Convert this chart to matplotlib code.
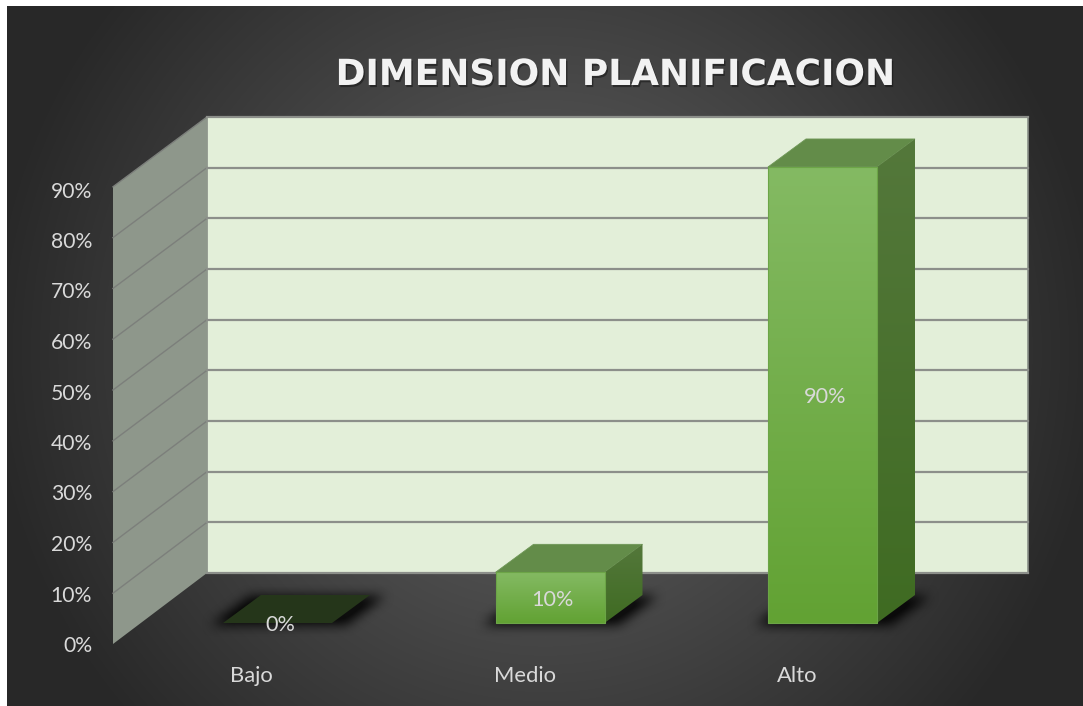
import numpy as np
import matplotlib
matplotlib.use("Agg")
import matplotlib.pyplot as plt
import matplotlib.patheffects as pe
from matplotlib.patches import Polygon

titleText = "DIMENSION PLANIFICACION"
categories = ["Bajo", "Medio", "Alto"]
percentValues = [0, 10, 90]
tickValues = [0, 10, 20, 30, 40, 50, 60, 70, 80, 90]

# Oblique layout of the chart, in pixels
figWidth, figHeight = 1083, 706
wallLeft, wallRight, wallBase = 207, 1028, 573
sideFrontX, sideFrontBase = 113, 644
backUnit = 5.067
frontUnit = 5.08
barBase = 623
barWidth = 109
barDepthX, barDepthY = 38, 28
barStart = 223
barStep = 272.5
labelStart = 251.5
labelStep = 273
labelColor = "#D9D9D9"


def blendColors(startColor, endColor, t):
    start = np.array(matplotlib.colors.to_rgb(startColor))
    end = np.array(matplotlib.colors.to_rgb(endColor))
    return start + (end - start) * t[..., None]


def drawBackground(ax):
    yy, xx = np.mgrid[6:figHeight, 7:figWidth]
    dist = np.sqrt(((xx - 545) / 560.0) ** 2 + ((yy - 350) / 560.0) ** 2)
    image = blendColors("#505050", "#282828", np.clip((dist - 0.35) / 0.65, 0, 1))
    ax.imshow(image, extent=[7, figWidth, figHeight, 6], zorder=0, aspect="auto")


def drawWalls(ax):
    wallTop = wallBase - tickValues[-1] * backUnit
    sideTop = sideFrontBase - tickValues[-1] * frontUnit

    ax.add_patch(Polygon([(wallLeft, wallTop), (wallRight, wallTop), (wallRight, wallBase), (wallLeft, wallBase)],
                         facecolor="#E3EFD9", edgecolor="#8A8F88", lw=1.2, zorder=1))
    ax.add_patch(Polygon([(sideFrontX, sideTop), (wallLeft, wallTop), (wallLeft, wallBase), (sideFrontX, sideFrontBase)],
                         facecolor="#8E978B", edgecolor="none", zorder=1))

    for tick in tickValues:
        backY = wallBase - tick * backUnit
        frontY = sideFrontBase - tick * frontUnit
        if tick > 0:
            ax.plot([sideFrontX, wallLeft], [frontY, backY], color="#7C7F7B", lw=1.0, zorder=2)
        ax.plot([wallLeft, wallRight], [backY, backY], color="#8C8F8A", lw=1.6, zorder=2)
        ax.text(92, 646 - tick * 5.05, f"{tick}%", color=labelColor, fontsize=15.2,
                ha="right", va="center", zorder=6)


def softShadow(left, right, front, back, slant):
    """Blurred parallelogram used as the shadow a bar throws on the floor."""
    yy, xx = np.mgrid[0:figHeight, 0:figWidth]
    shift = (front - yy) * slant
    mask = (xx >= left + shift) & (xx <= right + shift) & (yy <= front) & (yy >= back)
    mask = mask.astype(float)
    kernel = np.ones(13) / 13.0
    rows = np.where(mask.any(axis=1))[0]
    band = slice(rows.min() - 16, rows.max() + 17)
    for _ in range(2):
        mask[band] = np.apply_along_axis(lambda row: np.convolve(row, kernel, mode="same"), 1, mask[band])
        mask[band] = np.apply_along_axis(lambda col: np.convolve(col, kernel, mode="same"), 0, mask[band])
    layer = np.zeros((figHeight, figWidth, 4))
    layer[..., 3] = np.clip(mask * 1.2, 0, 1) * 0.8
    return layer


def gradientFace(ax, points, topColor, bottomColor, zorder):
    """Fill a polygon with a vertical gradient, clipped to the polygon outline."""
    pts = np.array(points, dtype=float)
    yMin, yMax = pts[:, 1].min(), pts[:, 1].max()
    t = np.linspace(0, 1, 256).reshape(-1, 1)
    image = ax.imshow(blendColors(topColor, bottomColor, t),
                      extent=[pts[:, 0].min(), pts[:, 0].max(), yMax, yMin],
                      aspect="auto", zorder=zorder)
    clip = Polygon(points, transform=ax.transData, facecolor="none", edgecolor="none")
    ax.add_patch(clip)
    image.set_clip_path(clip)


def drawBar(ax, index, value):
    left = barStart + index * barStep
    right = left + barWidth
    top = barBase - value * backUnit

    shadow = softShadow(left - 12, right + 14, barBase + 1, barBase - barDepthY + 1, barDepthX / barDepthY)
    ax.imshow(shadow, extent=[0, figWidth, figHeight, 0], aspect="auto", zorder=3)

    topFace = [(left, top), (right, top), (right + barDepthX, top - barDepthY), (left + barDepthX, top - barDepthY)]
    if value == 0:
        ax.add_patch(Polygon(topFace, facecolor="#25361A", edgecolor="none", zorder=4))
    else:
        front = [(left, top), (right, top), (right, barBase), (left, barBase)]
        side = [(right, top), (right + barDepthX, top - barDepthY),
                (right + barDepthX, barBase - barDepthY), (right, barBase)]
        ax.add_patch(Polygon(topFace, facecolor="#638C49", edgecolor="#6E9656", lw=0.6, zorder=4))
        gradientFace(ax, side, "#54783B", "#3F6B22", 4)
        gradientFace(ax, front, "#84BA63", "#62A233", 5)
        ax.plot([left, right, right, left, left], [top, top, barBase, barBase, top],
                color="#6CA547", lw=0.8, zorder=5)

    ax.text(left + barWidth / 2 + 2.5, (top + barBase) / 2 + 2, f"{value}%", color=labelColor,
            fontsize=15.6, ha="center", va="center", zorder=7)
    ax.text(labelStart + index * labelStep, 676, categories[index], color=labelColor, fontsize=15.8,
            ha="center", va="center", zorder=6)


def main():
    plt.rcParams["font.family"] = ["Lato", "DejaVu Sans"]

    fig = plt.figure(figsize=(figWidth / 100, figHeight / 100), dpi=100, facecolor="white")
    ax = fig.add_axes([0, 0, 1, 1])

    drawBackground(ax)
    drawWalls(ax)
    for index, value in enumerate(percentValues):
        drawBar(ax, index, value)

    title = ax.text(615, 85, titleText, color="#F2F2F2", fontsize=25.9, fontweight="bold",
                    family=["DejaVu Sans"], ha="center", va="baseline", zorder=7)
    title.set_path_effects([pe.withSimplePatchShadow(offset=(1, -1.5), shadow_rgbFace="#111111", alpha=0.5)])

    ax.set_xlim(0, figWidth)
    ax.set_ylim(figHeight, 0)
    ax.axis("off")

    fig.savefig("out.png", dpi=100, facecolor="white")


main()
